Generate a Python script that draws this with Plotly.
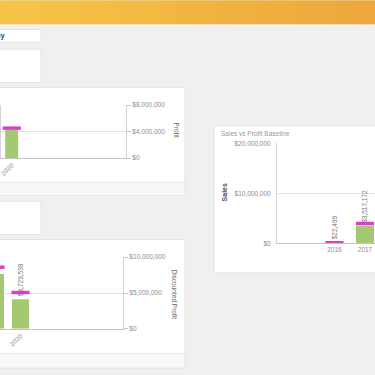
import plotly.graph_objects as go

W = H = 375

# ---------------- data ----------------
profit_years = ["2020"]
profit_sales = [4_300_000]
profit_marker = [4_520_000]
profit_ticks = [0, 4_000_000, 8_000_000]

disc_years = ["2019", "2020"]
disc_sales = [6_900_000, 3_729_538]
disc_profit = [8_600_000, 5_070_000]
disc_labels = ["", "$3,729,538"]
disc_ticks = [0, 5_000_000, 10_000_000]

base_years = ["2016", "2017"]
base_sales = [22_499, 3_517_172]
base_profit = [150_000, 4_000_000]
base_ticks = [0, 10_000_000, 20_000_000]


def money(v):
    return f"${v:,.0f}"


def px(x):
    return x / W


def py(y):
    return 1 - y / H


GREEN = "#a5c971"
MAGENTA = "#d941cc"
FONT = "Liberation Sans, Arial, sans-serif"
tickfont = dict(family=FONT, size=6.5, color="#8c8c8c")

fig = go.Figure()

# ---- Profit chart (left top) ----
fig.add_trace(go.Bar(x=profit_years, y=profit_sales, xaxis="x", yaxis="y",
                     marker=dict(color=GREEN, line_width=0), width=0.5,
                     hoverinfo="skip"))
fig.add_trace(go.Scatter(x=profit_years, y=profit_marker, xaxis="x", yaxis="y",
                         mode="markers",
                         marker=dict(symbol="line-ew", size=13,
                                     line=dict(color=MAGENTA, width=3.5)),
                         hoverinfo="skip"))

# ---- Discounted profit chart (left bottom) ----
fig.add_trace(go.Bar(x=disc_years, y=disc_sales, xaxis="x2", yaxis="y4",
                     marker=dict(color=GREEN, line_width=0), width=0.68,
                     text=disc_labels, textposition="outside",
                     textangle=-90, constraintext="none",
                     textfont=dict(family=FONT, size=6.5, color="#777777"),
                     hoverinfo="skip"))
fig.add_trace(go.Scatter(x=disc_years, y=disc_profit, xaxis="x2", yaxis="y2",
                         mode="markers",
                         marker=dict(symbol="line-ew", size=13,
                                     line=dict(color=MAGENTA, width=3.5)),
                         hoverinfo="skip"))

# ---- Sales vs Profit Baseline (right) ----
fig.add_trace(go.Bar(x=base_years, y=base_sales, xaxis="x3", yaxis="y3",
                     marker=dict(color=GREEN, line_width=0), width=0.59,
                     text=[money(v) for v in base_sales], textposition="outside",
                     textangle=-90, constraintext="none",
                     textfont=dict(family=FONT, size=6.5, color="#777777"),
                     hoverinfo="skip"))
fig.add_trace(go.Scatter(x=base_years, y=base_profit, xaxis="x3", yaxis="y3",
                         mode="markers",
                         marker=dict(symbol="line-ew", size=13,
                                     line=dict(color=MAGENTA, width=3.5)),
                         hoverinfo="skip"))

# ---------------- decorations ----------------
shapes = []
# header gradient
c0 = (245, 197, 72)
c1 = (237, 167, 60)
N = 40
for i in range(N):
    t = i / (N - 1)
    col = tuple(round(c0[k] + (c1[k] - c0[k]) * t) for k in range(3))
    shapes.append(dict(type="rect", xref="paper", yref="paper",
                       x0=i / N, x1=(i + 1) / N + 0.002, y0=py(21), y1=1.01,
                       fillcolor="rgb(%d,%d,%d)" % col, line_width=0, layer="below"))
shapes.append(dict(type="line", xref="paper", yref="paper", x0=0, x1=1,
                   y0=py(21.5), y1=py(21.5), line=dict(color="#fbfbfb", width=1), layer="below"))


def panel(x0, y0, x1, y1, fill="white", line="#e4e4e4"):
    shapes.append(dict(type="rect", xref="paper", yref="paper",
                       x0=px(x0), x1=px(x1), y0=py(y1), y1=py(y0),
                       fillcolor=fill, line=dict(color=line, width=1), layer="below"))


panel(-2, 26, 41, 39)
panel(-2, 46, 41, 80)
panel(-2, 85, 185, 195)
panel(-2, 182, 185, 195, fill="#f8f8f8", line="#e8e8e8")
panel(-2, 201, 41, 235)
panel(-2, 240, 185, 371)
panel(-2, 356, 185, 371, fill="#f8f8f8", line="#e8e8e8")
panel(214, 124, 380, 274)
# left axis line of profit chart
shapes.append(dict(type="line", xref="paper", yref="paper", x0=px(0.5), x1=px(0.5),
                   y0=py(157), y1=py(103), line=dict(color="#d4d4d4", width=1)))

annotations = [
    dict(text="<b>Currency</b>", x=px(7), y=py(32.5), xref="paper", yref="paper",
         xanchor="right", yanchor="middle", showarrow=False,
         font=dict(family=FONT, size=7, color="#404040")),
    dict(text="Profit", x=px(176), y=py(128), xref="paper", yref="paper",
         xanchor="center", yanchor="middle", showarrow=False, textangle=90,
         font=dict(family=FONT, size=6.5, color="#666666")),
    dict(text="Discounted Profit", x=px(175), y=py(296), xref="paper", yref="paper",
         xanchor="center", yanchor="middle", showarrow=False, textangle=90,
         font=dict(family=FONT, size=6.5, color="#666666")),
    dict(text="<b>Sales</b>", x=px(224), y=py(192), xref="paper", yref="paper",
         xanchor="center", yanchor="middle", showarrow=False, textangle=-90,
         font=dict(family=FONT, size=7, color="#505050")),
    dict(text="Sales vs Profit Baseline", x=px(219), y=py(132), xref="paper", yref="paper",
         xanchor="left", yanchor="middle", showarrow=False,
         font=dict(family=FONT, size=6.5, color="#999999")),
]

xcommon = dict(type="category", showline=True, linecolor="#c4c4c4", ticks="",
               showgrid=False, zeroline=False, tickfont=tickfont, fixedrange=True)
ycommon = dict(showline=True, linecolor="#d2d2d2", gridcolor="#e3e3e3",
               zeroline=False, tickfont=tickfont, fixedrange=True)

fig.update_layout(
    width=W, height=H, autosize=False,
    margin=dict(l=0, r=0, t=0, b=0, pad=0),
    paper_bgcolor="#f0f0f0", plot_bgcolor="rgba(0,0,0,0)",
    showlegend=False, hovermode=False, barmode="overlay",
    shapes=shapes, annotations=annotations,
    xaxis=dict(xcommon, domain=[0, px(126)], anchor="y",
               range=[-0.45, 4.4], tickangle=-45),
    yaxis=dict(ycommon, domain=[py(157), py(103)], anchor="x", side="right",
               range=[0, 8_000_000], tickvals=profit_ticks,
               ticktext=[money(v) for v in profit_ticks],
               ticks="outside", ticklen=4, tickcolor="#c8c8c8"),
    xaxis2=dict(xcommon, domain=[0, px(123)], anchor="y2",
                range=[0.18, 5.1], tickangle=-45),
    yaxis2=dict(ycommon, domain=[py(331), py(258)], anchor="x2", side="right",
                range=[0, 10_000_000], tickvals=disc_ticks,
                ticktext=[money(v) for v in disc_ticks],
                ticks="outside", ticklen=4, tickcolor="#c8c8c8"),
    yaxis4=dict(overlaying="y2", anchor="x2", range=[0, 9_000_000], visible=False,
                fixedrange=True),
    xaxis3=dict(xcommon, domain=[px(277), 1], anchor="y3",
                range=[-1.885, 1.328], tickangle=0),
    yaxis3=dict(ycommon, domain=[py(244), py(142)], anchor="x3", side="left",
                range=[0, 20_000_000], tickvals=base_ticks,
                ticktext=[money(v) for v in base_ticks], ticks="",
                ticklabelstandoff=4),
)

fig.write_html("out.html", config={"displayModeBar": False},
               post_script="document.body.style.margin='0';")
